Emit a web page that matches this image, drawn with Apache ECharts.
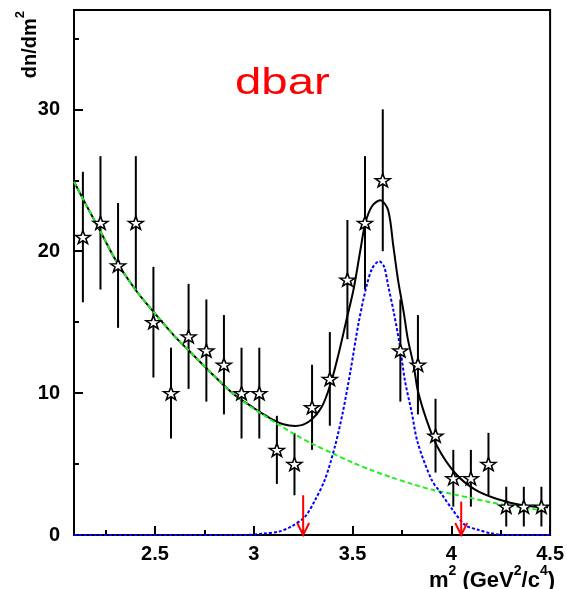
<!DOCTYPE html>
<html>
<head>
<meta charset="utf-8">
<script src="https://cdn.jsdelivr.net/npm/echarts@6/dist/echarts.min.js"></script>
<style>
html,body{margin:0;padding:0;background:#fff;}
#c{width:567px;height:589px;}
</style>
</head>
<body>
<div id="c"></div>
<script>
// ---- data ----
const binCenters = [2.135, 2.224, 2.313, 2.403, 2.492, 2.581, 2.670, 2.760, 2.849, 2.938, 3.028, 3.117, 3.206, 3.295, 3.385, 3.474, 3.563, 3.653, 3.742, 3.831, 3.920, 4.010, 4.099, 4.188, 4.278, 4.367, 4.456];
const counts = [21, 22, 19, 22, 15, 10, 14, 13, 12, 10, 10, 6, 5, 9, 11, 18, 22, 25, 13, 12, 7, 4, 4, 5, 2, 2, 2];
const errors = [4.6, 4.7, 4.4, 4.7, 3.9, 3.2, 3.7, 3.6, 3.5, 3.2, 3.2, 2.4, 2.2, 3.0, 3.3, 4.2, 4.7, 5.0, 3.6, 3.5, 2.6, 2.0, 2.0, 2.2, 1.4, 1.4, 1.4];

const bkgX = [2.09, 2.15, 2.22, 2.3, 2.4, 2.5, 2.6, 2.7, 2.8, 2.9, 3.0, 3.1, 3.2, 3.3, 3.4, 3.5, 3.6, 3.7, 3.8, 3.9, 4.0, 4.1, 4.2, 4.3, 4.4, 4.49];
const bkgY = [24.9, 23.3, 21.5, 19.4, 17.3, 15.6, 14.0, 12.6, 11.2, 9.9, 8.9, 8.0, 7.15, 6.4, 5.75, 5.1, 4.55, 4.05, 3.6, 3.2, 2.9, 2.6, 2.3, 2.05, 1.85, 1.72];

const totX = [2.09, 2.15, 2.22, 2.3, 2.4, 2.5, 2.6, 2.7, 2.8, 2.9, 3.0, 3.05, 3.1, 3.15, 3.21, 3.28, 3.345, 3.39, 3.43, 3.47, 3.505, 3.54, 3.565, 3.6, 3.64, 3.68, 3.707, 3.73, 3.76, 3.78, 3.81, 3.83, 3.875, 3.93, 4.02, 4.12, 4.24, 4.36, 4.49];
const totY = [24.9, 23.3, 21.5, 19.4, 17.3, 15.6, 14.0, 12.6, 11.2, 9.9, 8.95, 8.5, 8.1, 7.8, 7.69, 8.0, 9.05, 10.7, 12.8, 15.2, 17.3, 20.1, 22.0, 23.2, 23.6, 22.9, 20.3, 18.0, 15.6, 13.8, 11.9, 10.2, 8.1, 6.2, 4.35, 3.2, 2.5, 2.1, 1.95];

const sigX = [2.09, 2.95, 3.05, 3.13, 3.19, 3.26, 3.31, 3.36, 3.41, 3.45, 3.49, 3.53, 3.57, 3.6, 3.635, 3.66, 3.68, 3.71, 3.74, 3.765, 3.8, 3.83, 3.9, 3.95, 4.0, 4.07, 4.14, 4.2, 4.28, 4.5];
const sigY = [0, 0, 0.1, 0.25, 0.6, 1.3, 2.45, 3.9, 6.2, 8.6, 11.6, 14.9, 17.5, 18.8, 19.3, 18.9, 17.6, 15.6, 13.3, 10.9, 8.6, 6.5, 3.9, 2.9, 1.9, 0.7, 0.35, 0.12, 0, 0];

const arrowX = [3.25, 4.05];
const arrowTop = [2.8, 2.35];

const xMajorTicks = [2.5, 3, 3.5, 4, 4.5];
const xMinorTicks = [2.25, 2.75, 3.25, 3.75, 4.25];
const yMajorTicks = [0, 10, 20, 30];
const yMinorTicks = [5, 15, 25, 35];

// ---- chart ----
const zip = (a, b) => a.map((v, i) => [v, b[i]]);
const chart = echarts.init(document.getElementById('c'), null, {renderer: 'canvas'});
const FONT = '"Liberation Sans", Arial, Helvetica, sans-serif';
const starPath = 'path://M0,-10 L2.35,-3.24 L9.51,-3.09 L3.8,1.24 L5.88,8.09 L0,4 L-5.88,8.09 L-3.8,1.24 L-9.51,-3.09 L-2.35,-3.24 Z';

const option = {
  animation: false,
  backgroundColor: '#fff',
  grid: {left: 74, right: 15, top: 10, bottom: 54, show: true, borderColor: '#000', borderWidth: 2, backgroundColor: 'transparent'},
  xAxis: [
    {type: 'value', min: 2.09, max: 4.5, position: 'bottom',
     axisLine: {show: true, onZero: false, lineStyle: {color: '#000', width: 2}},
     axisTick: {show: true, inside: true, length: 9, customValues: xMajorTicks, lineStyle: {color: '#000', width: 2}},
     axisLabel: {show: true, customValues: xMajorTicks, margin: 9, color: '#000', fontFamily: FONT, fontWeight: 'bold', fontSize: 20},
     splitLine: {show: false}},
    {type: 'value', min: 2.09, max: 4.5, position: 'bottom',
     axisLine: {show: false},
     axisTick: {show: true, inside: true, length: 5, customValues: xMinorTicks, lineStyle: {color: '#000', width: 2}},
     axisLabel: {show: false}, splitLine: {show: false}}
  ],
  yAxis: [
    {type: 'value', min: 0, max: 37, position: 'left',
     axisLine: {show: true, onZero: false, lineStyle: {color: '#000', width: 2}},
     axisTick: {show: true, inside: true, length: 9, customValues: yMajorTicks, lineStyle: {color: '#000', width: 2}},
     axisLabel: {show: true, customValues: yMajorTicks, margin: 14, color: '#000', fontFamily: FONT, fontWeight: 'bold', fontSize: 20},
     splitLine: {show: false}},
    {type: 'value', min: 0, max: 37, position: 'left',
     axisLine: {show: false},
     axisTick: {show: true, inside: true, length: 5, customValues: yMinorTicks, lineStyle: {color: '#000', width: 2}},
     axisLabel: {show: false}, splitLine: {show: false}}
  ],
  graphic: [
    {type: 'text', x: 235, y: 84, scaleX: 1.28, z: 100,
     style: {text: 'dbar', fill: '#ff0000', font: '37px ' + FONT, align: 'left', verticalAlign: 'middle'}},
    {type: 'text', x: 27, y: 11, rotation: Math.PI / 2, z: 100,
     style: {text: '{m|dn/dm}{s|2}', align: 'right', verticalAlign: 'middle',
       rich: {m: {fontFamily: FONT, fontWeight: 'bold', fontSize: 20, color: '#000', lineHeight: 27, verticalAlign: 'bottom'},
              s: {fontFamily: FONT, fontWeight: 'bold', fontSize: 13, color: '#000', lineHeight: 27, verticalAlign: 'top'}}}},
    {type: 'text', x: 555, y: 578, z: 100,
     style: {text: '{m|m}{s|2}{m| (GeV}{s|2}{m|/c}{s|4}{m|)}', align: 'right', verticalAlign: 'middle',
       rich: {m: {fontFamily: FONT, fontWeight: 'bold', fontSize: 22, color: '#000', lineHeight: 28, verticalAlign: 'bottom'},
              s: {fontFamily: FONT, fontWeight: 'bold', fontSize: 14, color: '#000', lineHeight: 28, verticalAlign: 'top'}}}}
  ],
  series: [
    {type: 'custom', xAxisIndex: 0, yAxisIndex: 0, z: 2,
     data: binCenters.map((x, i) => [x, counts[i], errors[i]]),
     renderItem: function (params, api) {
       const x = api.value(0), y = api.value(1), e = api.value(2);
       const p1 = api.coord([x, y - e]), p2 = api.coord([x, y + e]);
       return {type: 'line', shape: {x1: p1[0], y1: p1[1], x2: p2[0], y2: p2[1]},
               style: {stroke: '#000', lineWidth: 2}};
     }},
    {type: 'line', xAxisIndex: 0, yAxisIndex: 0, z: 3, data: zip(totX, totY), showSymbol: false, symbol: 'none',
     smooth: 0.3, lineStyle: {color: '#000', width: 2}},
    {type: 'line', xAxisIndex: 0, yAxisIndex: 0, z: 4, data: zip(bkgX, bkgY), showSymbol: false, symbol: 'none',
     smooth: 0.3, lineStyle: {color: '#22ee22', width: 2, type: [5, 3]}},
    {type: 'line', xAxisIndex: 0, yAxisIndex: 0, z: 4, data: zip(sigX, sigY), showSymbol: false, symbol: 'none',
     smooth: 0.3, lineStyle: {color: '#0000ff', width: 2, type: [3, 2]}},
    {type: 'scatter', xAxisIndex: 0, yAxisIndex: 0, z: 6, data: zip(binCenters, counts),
     symbol: starPath, symbolSize: [15, 13],
     itemStyle: {color: '#fff', borderColor: '#000', borderWidth: 1.5, opacity: 1}},
    {type: 'custom', xAxisIndex: 0, yAxisIndex: 0, z: 7,
     data: zip(arrowX, arrowTop),
     renderItem: function (params, api) {
       const x = api.value(0), t = api.value(1);
       const top = api.coord([x, t]), tip = api.coord([x, 0]);
       const st = {stroke: '#ff0000', lineWidth: 2};
       return {type: 'group', children: [
         {type: 'line', shape: {x1: top[0], y1: top[1], x2: tip[0], y2: tip[1]}, style: st},
         {type: 'polyline', shape: {points: [[tip[0] - 6, tip[1] - 12], [tip[0], tip[1]], [tip[0] + 6, tip[1] - 12]]}, style: Object.assign({fill: null}, st)}
       ]};
     }}
  ]
};
chart.setOption(option);
</script>
</body>
</html>
